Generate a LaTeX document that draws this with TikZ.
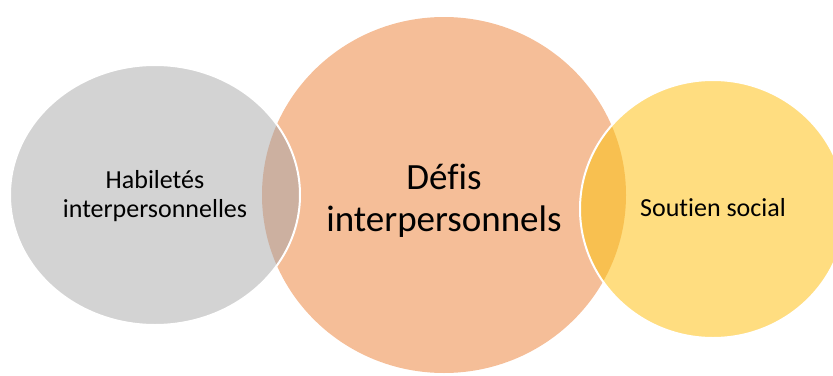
\documentclass[tikz,border=0pt]{standalone}
\usepackage{fontspec}
\setmainfont{Carlito}[Ligatures=NoCommon]
\usetikzlibrary{shapes.geometric}
\definecolor{cgray}{RGB}{211,211,211}
\definecolor{corange}{RGB}{245,190,152}
\definecolor{cyellow}{RGB}{255,221,128}
\definecolor{cgo}{RGB}{204,176,160}
\definecolor{coy}{RGB}{248,192,80}
\tikzset{
  blob/.style={ellipse, inner sep=0pt, align=center, text=black},
  small/.style={font=\fontsize{26}{29}\selectfont},
  big/.style={font=\fontsize{37}{42}\selectfont},
  rim/.style={draw=white, line width=2pt}
}
\begin{document}
\begin{tikzpicture}[x=1pt,y=-1pt]
\useasboundingbox (0,0) rectangle (833,375);
\begin{scope}
\clip (0,0) rectangle (833,375);
\node[blob, fill=corange, minimum width=364pt, minimum height=356pt] (defis) at (444,195) {};
\node[blob, fill=cgray, minimum width=290pt, minimum height=260pt] (hab) at (155,195) {};
\node[blob, fill=cyellow, minimum width=266pt, minimum height=258pt] (sout) at (713,209) {};
\begin{scope}
\clip (155,195) ellipse [x radius=145, y radius=130];
\fill[cgo] (444,195) ellipse [x radius=182, y radius=178];
\end{scope}
\begin{scope}
\clip (713,209) ellipse [x radius=133, y radius=129];
\fill[coy] (444,195) ellipse [x radius=182, y radius=178];
\end{scope}
\draw[rim] (155,195) ellipse [x radius=145, y radius=130];
\draw[rim] (713,209) ellipse [x radius=133, y radius=129];
\node[small, align=center] (thab) at ([yshift=-1pt]hab.center) {Habiletés\\interpersonnelles};
\node[big, align=center] (tdef) at ([yshift=-6pt]defis.center) {Défis\\interpersonnels};
\node[small] (tsout) at ([yshift=1pt]sout.center) {Soutien social};
\end{scope}
\end{tikzpicture}
\end{document}
